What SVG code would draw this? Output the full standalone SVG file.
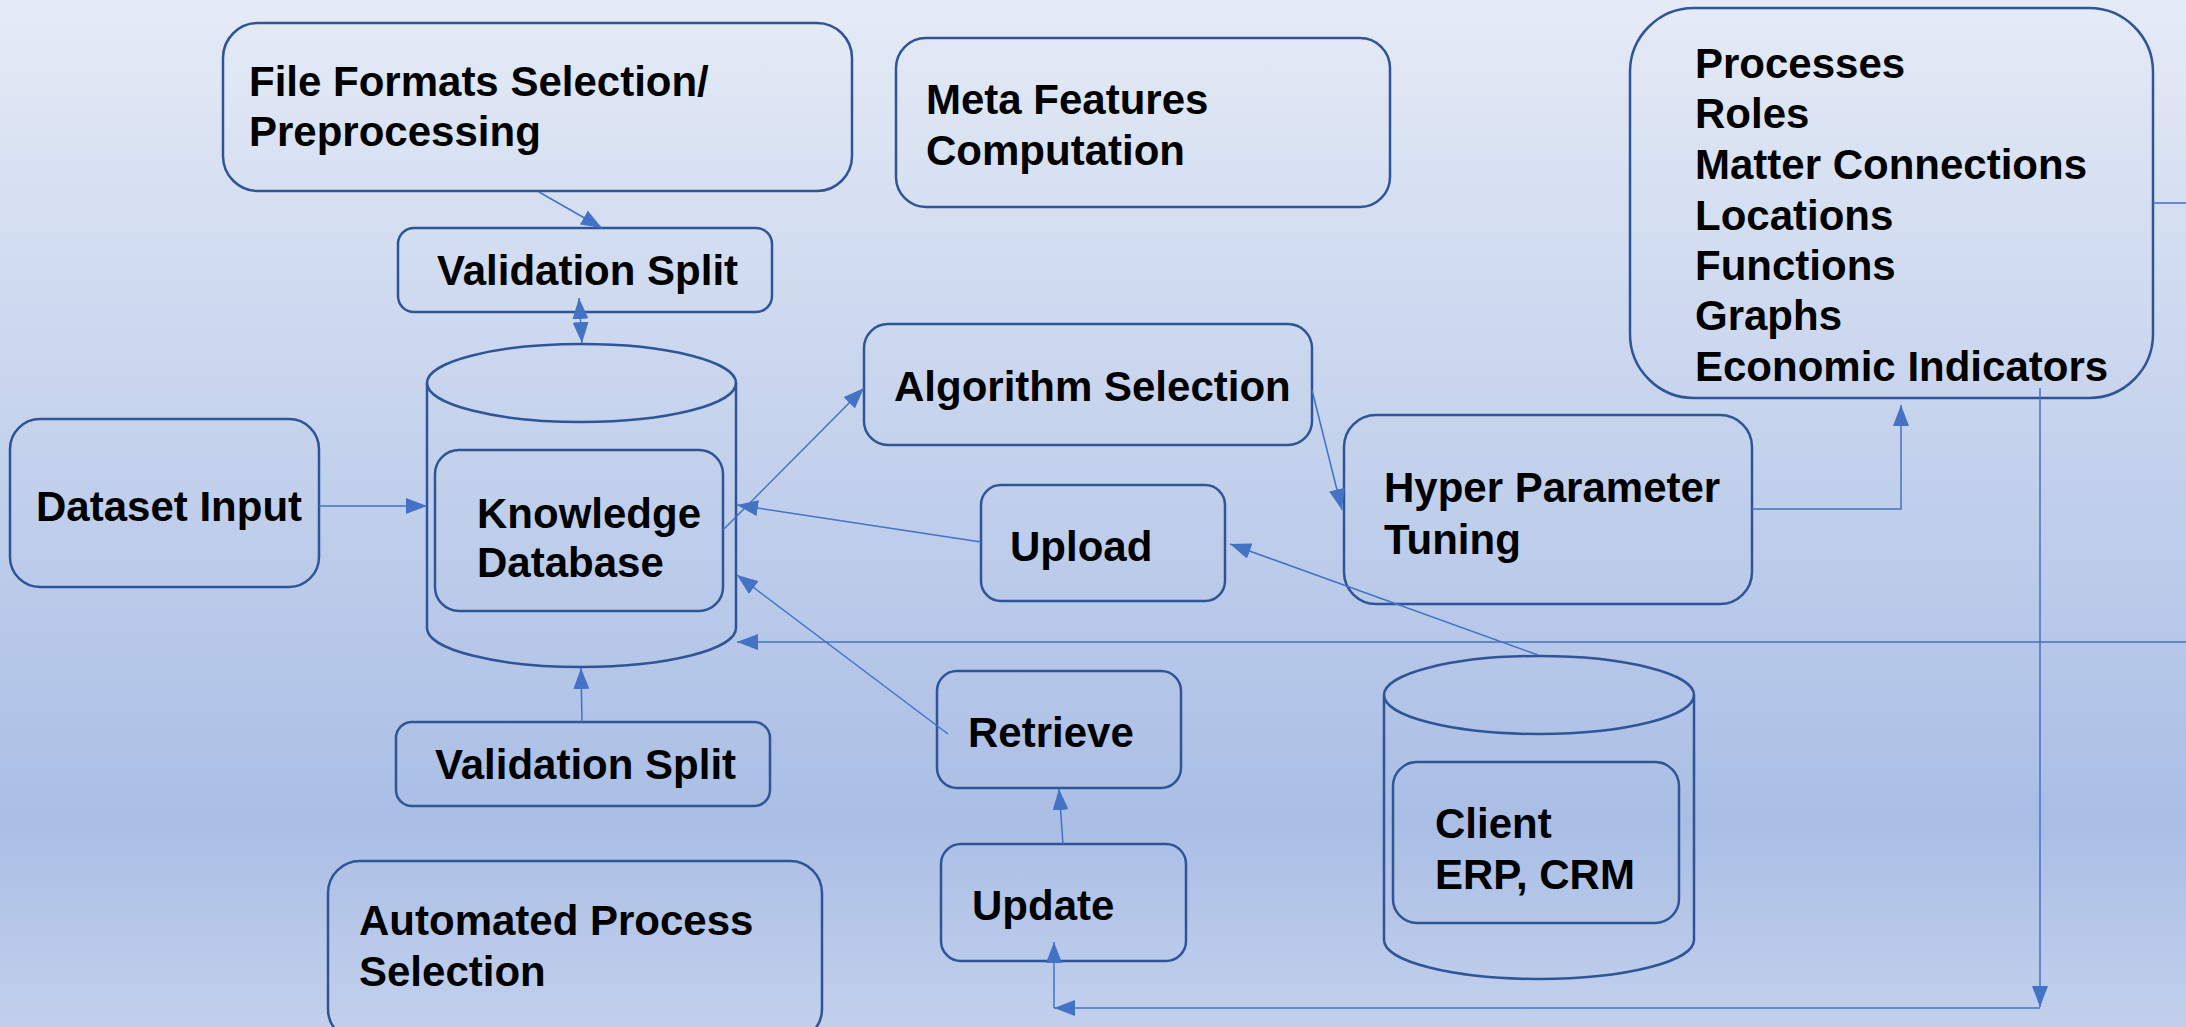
<svg xmlns="http://www.w3.org/2000/svg" width="2186" height="1027" viewBox="0 0 2186 1027">
<defs>
<linearGradient id="bg" x1="0" y1="0" x2="0" y2="1">
<stop offset="0" stop-color="#e5ebf6"/>
<stop offset="0.45" stop-color="#c3d1ec"/>
<stop offset="0.8" stop-color="#aabee5"/>
<stop offset="1" stop-color="#c2d0ec"/>
</linearGradient>
<marker id="ah" markerUnits="userSpaceOnUse" markerWidth="22" markerHeight="16" viewBox="0 0 22 16" refX="21" refY="8" orient="auto-start-reverse">
<path d="M0,0 L21,8 L0,16 z" fill="#4472c4"/>
</marker>
</defs>
<style>
.n{fill:none;stroke:#2f5597;stroke-width:2.5}
.t{font-family:"Liberation Sans",Arial,sans-serif;font-weight:bold;font-size:42px;fill:#000}
.c{fill:none;stroke:#4472c4;stroke-width:1.5}
</style>
<rect x="0" y="0" width="2186" height="1027" fill="url(#bg)"/>

<g id="file-formats">
<rect class="n" x="223" y="23" width="629" height="168" rx="35"/>
<text class="t" x="249" y="96">File Formats Selection/</text>
<text class="t" x="249" y="146">Preprocessing</text>
</g>
<g id="meta-features">
<rect class="n" x="896" y="38" width="494" height="169" rx="30"/>
<text class="t" x="926" y="114">Meta Features</text>
<text class="t" x="926" y="165">Computation</text>
</g>
<g id="validation-split-top">
<rect class="n" x="398" y="228" width="374" height="84" rx="16"/>
<text class="t" x="437" y="285">Validation Split</text>
</g>
<g id="knowledge-database">
<path class="n" d="M427,383 L427,628 A154.5,39 0 0 0 736,628 L736,383"/>
<ellipse class="n" cx="581.5" cy="383" rx="154.5" ry="39"/>
<rect class="n" x="435" y="450" width="288" height="161" rx="24"/>
<text class="t" x="477" y="528">Knowledge</text>
<text class="t" x="477" y="577">Database</text>
</g>
<g id="dataset-input">
<rect class="n" x="10" y="419" width="309" height="168" rx="30"/>
<text class="t" x="36" y="521">Dataset Input</text>
</g>
<g id="algorithm-selection">
<rect class="n" x="864" y="324" width="448" height="121" rx="24"/>
<text class="t" x="894" y="401">Algorithm Selection</text>
</g>
<g id="upload">
<rect class="n" x="981" y="485" width="244" height="116" rx="20"/>
<text class="t" x="1010" y="561">Upload</text>
</g>
<g id="hyper-parameter-tuning">
<rect class="n" x="1344" y="415" width="408" height="189" rx="32"/>
<text class="t" x="1384" y="502">Hyper Parameter</text>
<text class="t" x="1384" y="554">Tuning</text>
</g>
<g id="processes">
<rect class="n" x="1630" y="8" width="523" height="390" rx="64"/>
<text class="t" x="1695" y="78">Processes</text>
<text class="t" x="1695" y="128">Roles</text>
<text class="t" x="1695" y="179">Matter Connections</text>
<text class="t" x="1695" y="230">Locations</text>
<text class="t" x="1695" y="280">Functions</text>
<text class="t" x="1695" y="330">Graphs</text>
<text class="t" x="1695" y="381">Economic Indicators</text>
</g>
<g id="retrieve">
<rect class="n" x="937" y="671" width="244" height="117" rx="20"/>
<text class="t" x="968" y="747">Retrieve</text>
</g>
<g id="update">
<rect class="n" x="941" y="844" width="245" height="117" rx="20"/>
<text class="t" x="972" y="920">Update</text>
</g>
<g id="validation-split-bottom">
<rect class="n" x="396" y="722" width="374" height="84" rx="16"/>
<text class="t" x="435" y="779">Validation Split</text>
</g>
<g id="automated-process-selection">
<rect class="n" x="328" y="861" width="494" height="180" rx="32"/>
<text class="t" x="359" y="935">Automated Process</text>
<text class="t" x="359" y="986">Selection</text>
</g>
<g id="client-erp-crm">
<path class="n" d="M1384,695 L1384,940 A155,39 0 0 0 1694,940 L1694,695"/>
<ellipse class="n" cx="1539" cy="695" rx="155" ry="39"/>
<rect class="n" x="1393" y="762" width="286" height="161" rx="24"/>
<text class="t" x="1435" y="838">Client</text>
<text class="t" x="1435" y="889">ERP, CRM</text>
</g>

<g id="connectors">
<line class="c" x1="539" y1="192" x2="602" y2="228" marker-end="url(#ah)"/>
<line class="c" x1="579" y1="298" x2="582" y2="343" marker-start="url(#ah)" marker-end="url(#ah)"/>
<line class="c" x1="319" y1="506" x2="427" y2="506" marker-end="url(#ah)"/>
<line class="c" x1="723" y1="530" x2="864" y2="388" marker-end="url(#ah)"/>
<line class="c" x1="981" y1="542" x2="737" y2="505" marker-end="url(#ah)"/>
<line class="c" x1="948" y1="734" x2="737" y2="575" marker-end="url(#ah)"/>
<line class="c" x1="582" y1="722" x2="581" y2="668" marker-end="url(#ah)"/>
<line class="c" x1="1063" y1="844" x2="1059" y2="789" marker-end="url(#ah)"/>
<line class="c" x1="1538" y1="655" x2="1230" y2="544" marker-end="url(#ah)"/>
<line class="c" x1="1312" y1="390" x2="1342" y2="510" marker-end="url(#ah)"/>
<polyline class="c" points="1752,509 1901,509 1901,405" marker-end="url(#ah)"/>
<polyline class="c" points="2153,203 2200,203 2200,642 737,642" marker-end="url(#ah)"/>
<line class="c" x1="2040" y1="388" x2="2040" y2="1007" marker-end="url(#ah)"/>
<line class="c" x1="2040" y1="1008" x2="1054" y2="1008" marker-end="url(#ah)"/>
<line class="c" x1="1054" y1="1008" x2="1054" y2="942" marker-end="url(#ah)"/>
</g>
</svg>
